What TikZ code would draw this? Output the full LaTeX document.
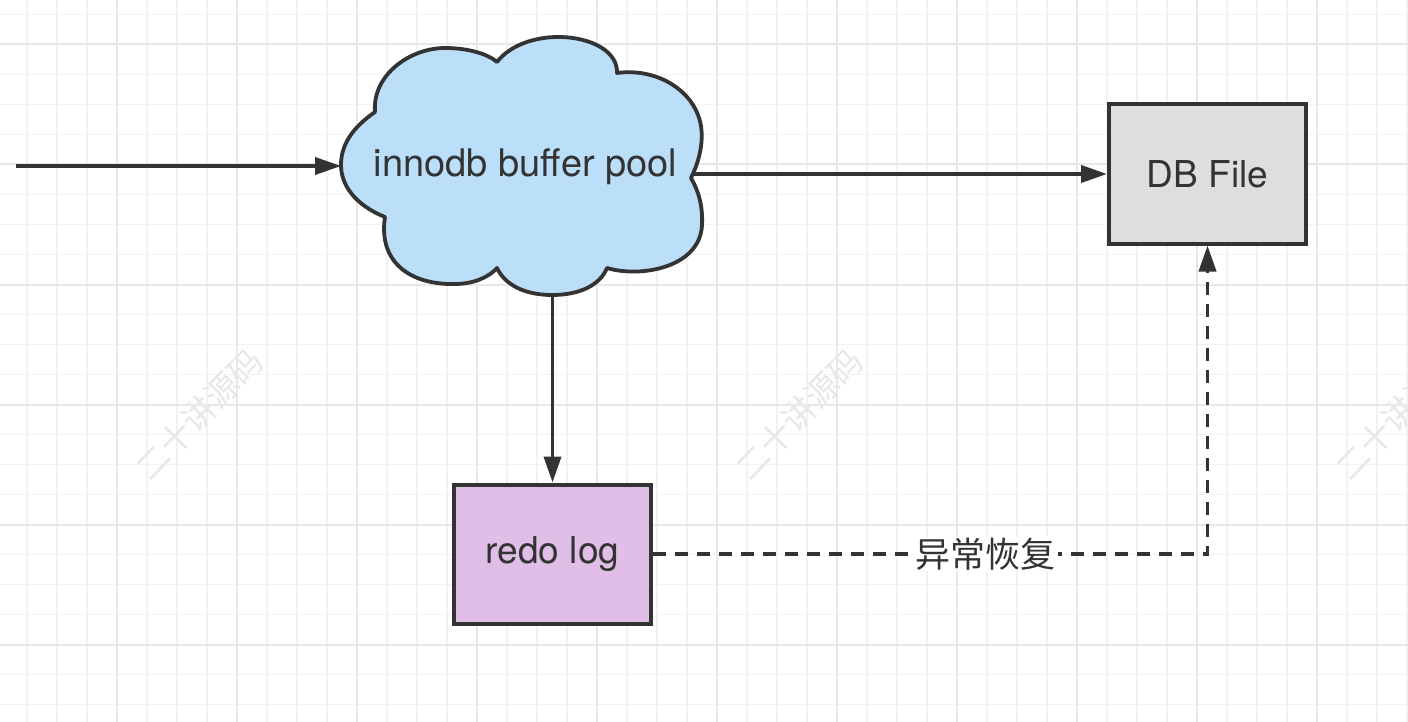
\documentclass[tikz,border=0pt]{standalone}
\usepackage{fontspec}
\setmainfont{TeX Gyre Heros}
\newfontfamily\cjkfont{Noto Sans CJK SC}
\usetikzlibrary{arrows.meta}

\begin{document}
\begin{tikzpicture}[x=1pt,y=-1pt,line width=1pt,
  gridminor/.style={draw=gridlight,line width=1.6pt},
  gridmajor/.style={draw=griddark,line width=2pt},
  wmark/.style={font=\cjkfont\fontsize{33}{36}\selectfont,text=black!9,rotate=46,inner sep=0pt},
  label/.style={font=\fontsize{37}{44}\selectfont,text=inkgrey},
  box/.style={label,draw=inkgrey,line width=4pt,minimum width=197pt,minimum height=139pt,inner sep=0pt},
  arr/.style={draw=inkgrey,line width=3.8pt,-{Triangle[length=26pt,width=17pt]}},
  dashline/.style={arr,dash pattern=on 13pt off 9pt},
  recover/.style={font=\cjkfont\fontsize{35}{40}\selectfont,text=inkgrey,fill=white,inner xsep=2pt,inner ysep=1pt}]
\definecolor{inkgrey}{RGB}{51,51,51}
\definecolor{gridlight}{RGB}{242,242,242}
\definecolor{griddark}{RGB}{232,232,232}
\definecolor{poolblue}{RGB}{187,222,249}
\definecolor{logpurple}{RGB}{225,190,231}
\definecolor{filegrey}{RGB}{222,222,222}
\useasboundingbox (0,0) rectangle (1408,722);
\fill[white] (0,0) rectangle (1408,722);
% grid paper
\foreach \gx in {27,57,...,1407} \draw[gridminor] (\gx,0) -- (\gx,722);
\foreach \gy in {14.5,44.5,...,720} \draw[gridminor] (0,\gy) -- (1408,\gy);
\foreach \gx in {117,237,...,1317} \draw[gridmajor] (\gx,0) -- (\gx,722);
\foreach \gy in {44.5,164.5,...,720} \draw[gridmajor] (0,\gy) -- (1408,\gy);
% watermarks
\node[wmark] (wm1) at (199,414) {二十讲源码};
\node[wmark] (wm2) at (799,414) {二十讲源码};
\node[wmark] (wm3) at (1399,414) {二十讲源码};
% cloud
\filldraw[fill=poolblue,draw=inkgrey,line width=3.8pt,line join=round]
  (375,112) .. controls (372,75) and (410,48) .. (445,48)
  .. controls (468,48) and (488,54) .. (497,62)
  .. controls (510,45) and (535,37) .. (558,37)
  .. controls (592,37) and (618,52) .. (617,73)
  .. controls (655,68) and (688,88) .. (698,115)
  .. controls (706,135) and (700,160) .. (691,178)
  .. controls (698,190) and (703,205) .. (702,225)
  .. controls (700,268) and (640,278) .. (607,268)
  .. controls (600,285) and (580,295) .. (552,295)
  .. controls (525,295) and (505,285) .. (497,268)
  .. controls (490,276) and (475,284) .. (455,284)
  .. controls (410,285) and (378,262) .. (385,217)
  .. controls (355,205) and (341,185) .. (341,165)
  .. controls (341,145) and (352,128) .. (375,112) -- cycle;
\node[label,font=\fontsize{38}{44}\selectfont] (pool) at (525.5,167) {innodb buffer pool};
\coordinate (pool-w) at (341,166);
\coordinate (pool-e) at (693,174);
\coordinate (pool-s) at (552.5,295);
\coordinate (src) at (16,166);
% boxes
\node[box,fill=filegrey] (db) at (1207.5,174) {DB File};
\node[box,fill=logpurple] (redo) at (552.5,554) {redo log};
% connectors
\draw[arr] (src) -- (pool-w);
\draw[arr] (pool-e) -- (db.west);
\draw[arr] (pool-s) -- (redo.north);
\draw[dashline] (redo.east) -| node[pos=0.3,recover] (heal) {异常恢复} (db.south);
\end{tikzpicture}
\end{document}
